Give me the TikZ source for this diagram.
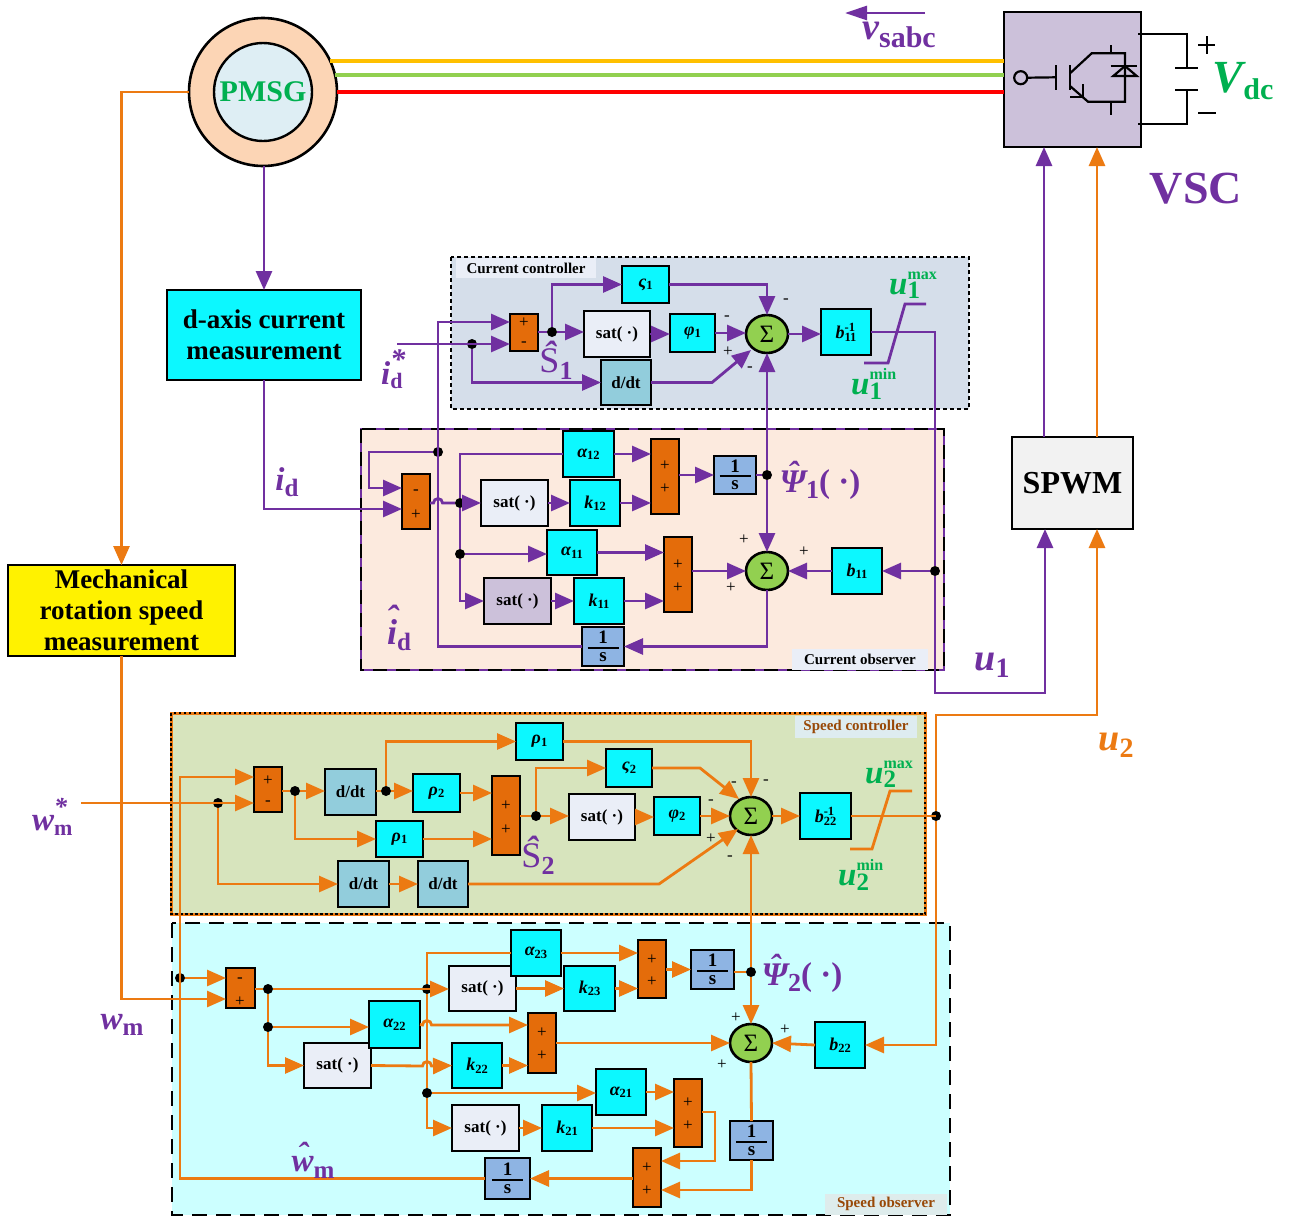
\documentclass[tikz,border=0pt]{standalone}
\usepackage{fontspec}
\setmainfont{Liberation Serif}
\usetikzlibrary{arrows.meta,shapes.geometric,calc}
\definecolor{pur}{HTML}{7030A0}
\definecolor{ora}{HTML}{EC7A12}
\definecolor{orf}{HTML}{E46C0A}
\definecolor{grn}{HTML}{00B050}
\definecolor{cya}{HTML}{0CF8FF}
\definecolor{blu}{HTML}{8EB4E3}
\definecolor{ddt}{HTML}{92CDDC}
\definecolor{sgr}{HTML}{EAEEF7}
\definecolor{lil}{HTML}{CCC1DA}
\definecolor{sgm}{HTML}{92D050}
\definecolor{brn}{HTML}{984807}
\newcommand\fs[1]{\fontsize{#1}{#1}\selectfont}
% block text
\newcommand\bl[2]{{\fs{18}\bfseries\itshape #1}{\fs{12.5}\bfseries\raisebox{-0.2em}{#2}}}
\newcommand\bli[2]{{\fs{18}\bfseries\itshape #1}\rlap{\fs{12.5}\bfseries\raisebox{0.6em}{-1}}{\fs{12.5}\bfseries\raisebox{-0.2em}{#2}}}
\newcommand\fr{\bfseries\fs{19}\vbox{\hbox to 31pt{\hss 1\hss}\kern3pt\hrule height 2pt\kern3.5pt\hbox to 31pt{\hss s\hss}}}
\newcommand\sat{\bfseries\fs{17}sat( ·)}
% big label: size, subsize, letter, sub
\newcommand\lab[4]{{\fs{#1}\bfseries\itshape #3}{\fs{#2}\bfseries\raisebox{-0.25em}{#4}}}
\newcommand\labs[6]{{\fs{#1}\bfseries\itshape #4}\rlap{\fs{#3}\bfseries\raisebox{15pt}{#6}}{\fs{#2}\bfseries\raisebox{-4.5pt}{#5}}}
\newcommand\hatt[2][0.5em]{\setbox0=\hbox{#2}\hbox{\rlap{\hbox to \wd0{\hss\raisebox{#1}{ˆ}\hss}}\box0}}
\newcommand\bx[7]{\node[bxs,#6,minimum width={(#4-#2)*1pt},minimum height={(#5-#3)*1pt}] (#1) at ({(#2+#4)/2},{(#3+#5)/2}) {#7};}
\tikzset{
  bxs/.style={draw=black,line width=2.4pt,inner sep=0pt,outer sep=0pt},
  cy/.style={fill=cya},
  or/.style={fill=orf},
  bl1/.style={fill=blu},
  dd/.style={fill=ddt,font=\bfseries\fontsize{17}{17}\selectfont},
  st/.style={fill=sgr},
  sig/.style={ellipse,draw=black,line width=2.6pt,fill=sgm,minimum width=42pt,minimum height=38pt,inner sep=0pt,outer sep=0pt,font=\fontsize{25}{25}\selectfont},
  jn/.style={circle,fill=black,minimum size=10pt,inner sep=0pt},
  sgn/.style={inner sep=0pt,font=\fontsize{17}{17}\selectfont},
  pw/.style={draw=pur,line width=2.8pt},
  pa/.style={pw,-{Triangle[length=19pt,width=16pt]}},
  ow/.style={draw=ora,line width=2.8pt},
  oa/.style={ow,-{Triangle[length=19pt,width=16pt]}},
  tag/.style={inner sep=0pt,font=\bfseries\fontsize{15}{15}\selectfont},
  txt/.style={inner sep=0pt},
  blw/.style={draw=black,line width=2.2pt}
}
\begin{document}
\begin{tikzpicture}[x=1pt,y=-1pt]
\useasboundingbox (0,0) rectangle (1294,1216);
% regions
\fill[fill=white] (0,0) rectangle (1294,1216);
\draw[fill={rgb,255:red,213;green,222;blue,234},draw=black,line width=2.6pt,dash pattern=on 4pt off 3pt] (451,257) rectangle (969,409);
\fill[fill={rgb,255:red,252;green,234;blue,222}] (361,429) rectangle (944,670);
\draw[pur,line width=2.6pt] (361,429) rectangle (944,670);
\draw[black,line width=2.6pt,dash pattern=on 14pt off 9pt] (361,429) rectangle (944,670);
\fill[fill={rgb,255:red,215;green,228;blue,189}] (171,713) rectangle (925,914);
\draw[ora,line width=3pt] (171,713) rectangle (925,914);
\draw[black,line width=2.4pt,dash pattern=on 2.5pt off 2.5pt] (171,713) rectangle (925,914);
\fill[fill={rgb,255:red,204;green,255;blue,255}] (172,923) rectangle (950,1215);
\draw[black,line width=2.6pt,dash pattern=on 15pt off 9pt] (172,923) rectangle (950,1215);
% region tags
\node[tag,fill=sgr,minimum width=140pt,minimum height=20pt] (t1) at (526,268) {Current controller};
\node[tag,fill=sgr,minimum width=136pt,minimum height=21pt] (t2) at (860,659) {Current observer};
\node[tag,text=brn,fill={rgb,255:red,222;green,236;blue,240},minimum width=122pt,minimum height=22pt] (t3) at (856,727) {Speed controller};
\node[tag,text=brn,fill={rgb,255:red,222;green,236;blue,236},minimum width=122pt,minimum height=21pt] (t4) at (886,1204) {Speed observer};
% PMSG
\node[circle,draw=black,line width=2.6pt,fill={rgb,255:red,252;green,213;blue,181},minimum size=148pt,inner sep=0pt,outer sep=0pt] (pm) at (263,92) {};
\node[circle,draw=black,line width=2.4pt,fill={rgb,255:red,222;green,238;blue,244},minimum size=98pt,inner sep=0pt,text=grn,font=\bfseries\fontsize{30}{30}\selectfont] (pmi) at (263,92) {PMSG};
% VSC
\bx{vsc}{1004}{12}{1141}{147}{fill=lil}{}
\bx{spwm}{1012}{437}{1133}{529}{fill={rgb,255:red,242;green,242;blue,242},font=\bfseries\fontsize{32}{32}\selectfont}{SPWM}
\bx{dax}{167}{290}{361}{380}{cy,align=center,font=\bfseries\fontsize{27}{31}\selectfont}{d-axis current\\measurement}
\bx{mech}{8}{565}{235}{656}{fill=yellow,align=center,font=\bfseries\fontsize{27}{31}\selectfont}{Mechanical\\rotation speed\\measurement}
% VSC symbol
\draw[blw] (1020.7,77.7) circle (6.5pt);
\draw[blw] (1027.5,77.7) -- (1055.7,77.3);
\draw[blw] (1055.7,65) -- (1055.7,90);
\draw[blw] (1070,65) -- (1070,90);
\draw[blw] (1070,73.3) -- (1091.7,53.3) -- (1125,53.3) -- (1125,101.7) -- (1088,101.7) -- (1070,86);
\draw[blw] (1110.7,45) -- (1110.7,53.3);
\draw[blw] (1110.7,101.7) -- (1110.7,115);
\draw[blw] (1125,66) -- (1113.3,76) -- (1136.7,76) -- cycle;
\draw[blw] (1110.7,66) -- (1136.7,66);
\draw[blw] (1083,84.3) -- (1083,96.7) -- (1070,96.7);
\draw[blw] (1138.3,34.3) -- (1186.7,34.3) -- (1186.7,68.3);
\draw[blw] (1175,68.3) -- (1198.3,68.3);
\draw[blw] (1175,90) -- (1198.3,90);
\draw[blw] (1186.7,90) -- (1186.7,124) -- (1138.3,124);
\draw[blw,line width=2pt] (1198,45) -- (1215,45);
\draw[blw,line width=2pt] (1206.5,36) -- (1206.5,54);
\draw[blw,line width=2pt] (1198,112.7) -- (1216,112.7);
% three phases
\draw[draw={rgb,255:red,255;green,192;blue,0},line width=4pt] (pm.25.6) -- (pm.25.6 -| vsc.west);
\draw[draw=sgm,line width=4pt] (pm.13.3) -- (pm.13.3 -| vsc.west);
\draw[draw=red,line width=4pt] (pm.east) -- (pm.east -| vsc.west);
\coordinate (vr) at (925,13);
\coordinate (vl) at (845,13);
\draw[pw,-{Triangle[length=22pt,width=14pt]}] (vr) -- (vl);
% current controller blocks
\bx{cs1}{510}{314}{538}{351}{or}{}
\bx{z1}{622}{266}{669}{303}{cy}{\bl{ς}{1}}
\bx{cs}{584}{311}{650}{357}{st}{\sat}
\bx{ph1}{670}{314}{715}{352}{cy}{\bl{φ}{1}}
\node[sig] (S1) at (767,334) {Σ};
\bx{bi1}{821}{309}{871}{355}{cy}{\bli{b}{11}}
\bx{dd1}{601}{360}{651}{405}{dd}{d/dt}
\node[jn] (j1) at (472,344) {};
\node[jn] (j2) at (552,332) {};
\coordinate (in1) at (397,344);
% current observer blocks
\bx{os1}{402}{474}{430}{529}{or}{}
\bx{a12}{563}{431}{614}{477}{cy}{\bl{α}{12}}
\bx{s12}{481}{480}{548}{526}{st}{\sat}
\bx{k12}{570}{480}{620}{526}{cy}{\bl{k}{12}}
\bx{os2}{651}{439}{679}{514}{or}{}
\bx{fr1}{714}{456}{756}{494}{bl1}{\fr}
\bx{a11}{547}{530}{597}{575}{cy}{\bl{α}{11}}
\bx{s11}{484}{578}{551}{624}{fill=lil}{\sat}
\bx{k11}{574}{578}{624}{624}{cy}{\bl{k}{11}}
\bx{os3}{664}{537}{692}{612}{or}{}
\node[sig] (S2) at (767,571) {Σ};
\bx{b11}{832}{548}{882}{594}{cy}{\bl{b}{11}}
\bx{fr2}{582}{627}{624}{666}{bl1}{\fr}
\node[jn] (j3) at (438,452) {};
\node[jn] (j4) at (460,503) {};
\node[jn] (j5) at (460,554) {};
\node[jn] (j6) at (767,475) {};
\node[jn] (j7) at (935,571) {};
% speed controller blocks
\bx{vs1}{254}{767}{282}{812}{or}{}
\bx{dd2}{325}{769}{376}{815}{dd}{d/dt}
\bx{r1}{516}{723}{563}{760}{cy}{\bl{ρ}{1}}
\bx{r2}{413}{774}{460}{812}{cy}{\bl{ρ}{2}}
\bx{r3}{376}{821}{423}{857}{cy}{\bl{ρ}{1}}
\bx{vs2}{492}{776}{520}{855}{or}{}
\bx{z2}{606}{749}{652}{787}{cy}{\bl{ς}{2}}
\bx{cs2}{569}{794}{635}{840}{st}{\sat}
\bx{ph2}{654}{797}{700}{835}{cy}{\bl{φ}{2}}
\node[sig] (S3) at (751,816) {Σ};
\bx{bi2}{800}{793}{851}{839}{cy}{\bli{b}{22}}
\bx{dd3}{338}{861}{389}{907}{dd}{d/dt}
\bx{dd4}{418}{861}{468}{907}{dd}{d/dt}
\node[jn] (j8) at (218,803) {};
\node[jn] (j9) at (295,791) {};
\node[jn] (j10) at (386,791) {};
\node[jn] (j11) at (536,816) {};
\node[jn] (j12) at (936,816) {};
\coordinate (in2) at (81,803);
% speed observer blocks
\bx{ws1}{226}{968}{255}{1008}{or}{}
\bx{s23}{449}{966}{516}{1011}{st}{\sat}
\bx{a23}{511}{930}{561}{976}{cy}{\bl{α}{23}}
\bx{k23}{564}{966}{615}{1011}{cy}{\bl{k}{23}}
\bx{ws2}{638}{940}{666}{998}{or}{}
\bx{fr3}{691}{950}{734}{989}{bl1}{\fr}
\bx{s22}{304}{1043}{371}{1088}{st}{\sat}
\bx{a22}{369}{1001}{420}{1048}{cy}{\bl{α}{22}}
\bx{k22}{452}{1043}{502}{1088}{cy}{\bl{k}{22}}
\bx{ws3}{528}{1013}{556}{1073}{or}{}
\node[sig] (S4) at (751,1043) {Σ};
\bx{b22}{815}{1022}{865}{1068}{cy}{\bl{b}{22}}
\bx{a21}{596}{1069}{646}{1115}{cy}{\bl{α}{21}}
\bx{ws4}{674}{1079}{702}{1147}{or}{}
\bx{s21}{452}{1105}{519}{1151}{st}{\sat}
\bx{k21}{542}{1105}{592}{1151}{cy}{\bl{k}{21}}
\bx{fr4}{730}{1121}{773}{1160}{bl1}{\fr}
\bx{ws5}{633}{1148}{661}{1207}{or}{}
\bx{fr5}{485}{1158}{530}{1199}{bl1}{\fr}
\node[jn] (j13) at (180,978) {};
\node[jn] (j14) at (268,989) {};
\node[jn] (j15) at (268,1027) {};
\node[jn] (j16) at (427,989) {};
\node[jn] (j17) at (427,1093) {};
\node[jn] (j18) at (751,972) {};
% signs inside summers and around sigma
\foreach \n/\x/\y/\t in {a/524/323/+,b/524/344/-,c/416/492/-,d/416/515/+,e/665/466/+,f/665/489/+,g/678/565/+,h/678/588/+,
 i/268/781/+,j/268/803/-,k/506/806/+,l/506/830/+,m/240/980/-,n/240/1002/+,o/652/960/+,p/652/982/+,q/542/1033/+,r/542/1056/+,s/688/1103/+,t/688/1126/+,u/647/1168/+,v/647/1191/+,
 A/786/301/-,B/727/318/-,C/728/352/+,D/750/369/-,E/744/540/+,F/804/552/+,G/731/588/+,
 H/734/784/-,I/766/782/-,J/711/802/-,K/711/839/+,L/730/858/-,M/736/1018/+,N/785/1030/+,O/722/1065/+}
 {\node[sgn] (sg\n) at (\x,\y) {\t};}
% purple wires
\draw[pa] (dax.north |- pm.south) -- (dax.north);
\draw[pa] (1044,0 |- spwm.north) -- (1044,0 |- vsc.south);
\draw[oa] (1097,0 |- spwm.north) -- (1097,0 |- vsc.south);
\draw[oa] (pm.west) -| (mech.north);
\draw[oa] (mech.south) |- (122,999) -- (122,999 -| ws1.west);
\draw[pa] (in1) -- (in1 -| cs1.west);
\draw[pa] (j1) |- (dd1.west);
\draw[pa] (fr2.west) -- (438,0 |- fr2.west) -- (438,322) -- (438,322 -| cs1.west);
\draw[pw] (cs1.east |- j2) -- (j2);
\draw[pa] (j2) -- (j2 -| cs.west);
\draw[pa] (j2) |- (z1.west);
\draw[pa] (cs.east) -- (cs.east -| ph1.west);
\draw[pa] (ph1.east) -- (ph1.east -| S1.west);
\draw[pa] (z1.east) -| (S1.north);
\draw[pa] (dd1.east) -- (712,0 |- dd1.east) -- (751,350);
\draw[pa] (S1.east) -- (S1.east -| bi1.west);
\draw[pw] (bi1.east) -- (935,0 |- bi1.east) -- (j7);
\draw[pa] (j7) -- (935,693) -- (1045,693) -- (1045,0 |- spwm.south);
\draw[pw] (864,363) -- (888,363) -- (905,304) -- (926,304);
\draw[pa] (j6) -- (S2.north);
\draw[pa] (j6) -- (S1.south);
\draw[pw] (fr1.east |- j6) -- (j6);
\draw[pa] (dax.south) |- (264,509) -- (264,509 -| os1.west);
\draw[pa] (j3) -- (369,452) -- (369,488) -- (369,488 -| os1.west);
\draw[pw] (os1.east |- j4) -- (433.5,503) arc[start angle=180,end angle=0,radius=4.5pt] -- (j4);
\draw[pa] (j4) -- (j4 -| s12.west);
\draw[pw] (a12.west) -- (460,0 |- a12.west) -- (j4);
\draw[pw] (j4) -- (j5);
\draw[pa] (j5) -- (j5 -| a11.west);
\draw[pa] (j5) |- (s11.west);
\draw[pa] (s12.east) -- (s12.east -| k12.west);
\draw[pa] (k12.east) -- (k12.east -| os2.west);
\draw[pa] (a12.east) -- (a12.east -| os2.west);
\draw[pa] (os2.east |- fr1.west) -- (fr1.west);
\draw[pa] (a11.east) -- (a11.east -| os3.west);
\draw[pa] (s11.east) -- (s11.east -| k11.west);
\draw[pa] (k11.east) -- (k11.east -| os3.west);
\draw[pa] (os3.east |- S2.west) -- (S2.west);
\draw[pa] (b11.west) -- (S2.east);
\draw[pa] (j7) -- (b11.east);
\draw[pa] (S2.south) |- (fr2.east);
% orange wires
\draw[oa] (in2) -- (in2 -| vs1.west);
\draw[oa] (j8) |- (dd3.west);
\draw[oa] (fr5.west) -| (180,777) -- (180,777 -| vs1.west);
\draw[oa] (j13) -- (j13 -| ws1.west);
\draw[ow] (vs1.east |- j9) -- (j9);
\draw[oa] (j9) -- (j9 -| dd2.west);
\draw[oa] (j9) |- (r3.west);
\draw[ow] (dd2.east |- j10) -- (j10);
\draw[oa] (j10) -- (j10 -| r2.west);
\draw[oa] (j10) |- (r1.west);
\draw[oa] (r2.east) -- (r2.east -| vs2.west);
\draw[oa] (r3.east) -- (r3.east -| vs2.west);
\draw[ow] (vs2.east |- j11) -- (j11);
\draw[oa] (j11) -- (j11 -| cs2.west);
\draw[oa] (j11) |- (z2.west);
\draw[oa] (cs2.east) -- (cs2.east -| ph2.west);
\draw[oa] (ph2.east) -- (ph2.east -| S3.west);
\draw[oa] (r1.east) -| (S3.north);
\draw[oa] (z2.east) -- (700,0 |- z2.east) -- (739,799);
\draw[oa] (dd3.east) -- (dd4.west);
\draw[oa] (dd4.east) -- (659,0 |- dd4.east) -- (738,829);
\draw[oa] (S3.east) -- (S3.east -| bi2.west);
\draw[ow] (bi2.east) -- (bi2.east -| j12);
\draw[oa] (j12) -- (936,715) -- (1097,715) -- (1097,0 |- spwm.south);
\draw[oa] (j12) |- (b22.east);
\draw[ow] (850,849) -- (872,849) -- (890,791) -- (912,791);
\draw[oa] (j18) -- (S3.south);
\draw[oa] (j18) -- (S4.north);
\draw[ow] (fr3.east |- j18) -- (j18);
\draw[ow] (ws1.east |- j14) -- (j14);
\draw[oa] (j14) -- (j14 -| s23.west);
\draw[ow] (j14) -- (j15);
\draw[oa] (j15) -- (j15 -| a22.west);
\draw[oa] (j15) |- (s22.west);
\draw[ow] (a23.west) -- (427,0 |- a23.west) -- (j16);
\draw[ow] (j16) -- (j17);
\draw[oa] (j17) -- (j17 -| a21.west);
\draw[oa] (j17) |- (s21.west);
\draw[oa] (a22.east) -- (422.5,1025) arc[start angle=180,end angle=0,radius=4.5pt] -- (528,1025);
\draw[oa] (s22.east) -- (422.5,1066) arc[start angle=180,end angle=0,radius=4.5pt] -- (k22.west);
\draw[oa] (s23.east) -- (s23.east -| k23.west);
\draw[oa] (a23.east) -- (a23.east -| ws2.west);
\draw[oa] (k23.east) -- (k23.east -| ws2.west);
\draw[oa] (ws2.east |- fr3.west) -- (fr3.west);
\draw[oa] (k22.east) -- (k22.east -| ws3.west);
\draw[oa] (ws3.east |- S4.west) -- (S4.west);
\draw[oa] (b22.west) -- (S4.east);
\draw[oa] (a21.east) -- (a21.east -| ws4.west);
\draw[oa] (s21.east) -- (s21.east -| k21.west);
\draw[oa] (k21.east) -- (k21.east -| ws4.west);
\draw[oa] (702,1112) -- (715,1112) -- (715,1161) -- (715,1161 -| ws5.east);
\draw[ow] (S4.south) -- (fr4.north);
\draw[oa] (fr4.south) |- (751,1190) -- (751,1190 -| ws5.east);
\draw[oa] (ws5.west |- fr5.east) -- (fr5.east);
% labels
\node[txt,text=pur] (l1) at (899,35) {\lab{38}{30}{v}{sabc}};
\node[txt,text=grn] (l2) at (1243,81) {\lab{46}{30}{V}{dc}};
\node[txt,text=pur,font=\bfseries\fontsize{46}{46}\selectfont] (l3) at (1196,189) {VSC};
\node[txt,text=grn,anchor=west] (l4) at (889,285) {\labs{33}{25}{16}{u}{1}{max}};
\node[txt,text=grn,anchor=west] (l5) at (851,384) {\labs{33}{25}{16}{u}{1}{min}};
\node[txt,text=pur,anchor=west] (l6) at (381,369) {\labs{33}{22}{30}{i}{d}{\itshape *}};
\node[txt,text=pur] (l7) at (556,360) {\lab{36}{26}{\hatt[0.18em]{\textnormal{S}}}{1}};
\node[txt,text=pur] (l8) at (287,482) {\lab{33}{25}{i}{d}};
\node[txt,text=pur] (l9) at (399,628) {\lab{36}{25}{\hatt[0.4em]{i}}{d}};
\node[txt,text=pur] (l10) at (820,480) {\lab{33}{26}{\hatt[0.25em]{Ψ}}{1}{\fs{33}\bfseries( ·)}};
\node[txt,text=pur] (l11) at (992,665) {\lab{38}{28}{u}{1}};
\node[txt,text=ora] (l12) at (1116,745) {\lab{38}{28}{u}{2}};
\node[txt,text=grn,anchor=west] (l13) at (865,774) {\labs{33}{25}{16}{u}{2}{max}};
\node[txt,text=grn,anchor=west] (l14) at (838,875) {\labs{33}{25}{16}{u}{2}{min}};
\node[txt,text=pur,anchor=west] (l15) at (32,817) {\labs{33}{22}{26}{w}{m}{\itshape *}};
\node[txt,text=pur] (l16) at (538,855) {\lab{36}{26}{\hatt[0.18em]{\textnormal{S}}}{2}};
\node[txt,text=pur] (l17) at (802,973) {\lab{33}{26}{\hatt[0.25em]{Ψ}}{2}{\fs{33}\bfseries( ·)}};
\node[txt,text=pur] (l18) at (122,1025) {\lab{33}{25}{w}{m}};
\node[txt,text=pur] (l19) at (313,1160) {\lab{33}{25}{\hatt[0.2em]{w}}{m}};
\end{tikzpicture}
\end{document}
